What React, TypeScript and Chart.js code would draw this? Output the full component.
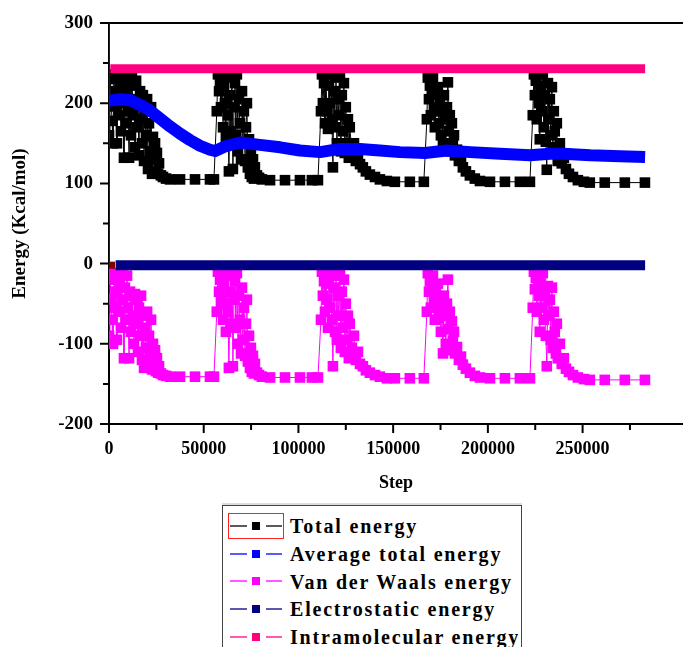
import React, { useEffect, useRef } from 'react';
import { Chart, registerables } from 'chart.js';

Chart.register(...registerables);

const FONT = '"Liberation Serif", "Times New Roman", serif';

// ---------- tick definitions ----------
const xMajorTicks = [0, 50000, 100000, 150000, 200000, 250000];
const xMinorTicks = [25000, 75000, 125000, 175000, 225000, 275000];
const yMajorTicks = [-200, -100, 0, 100, 200, 300];
const yMinorTicks = [-150, -50, 50, 150, 250];

// ---------- series (step, energy) ----------
const totalEnergy: [number, number][] = [
  [0, 160], [500, 236], [1100, 205], [1600, 178], [2100, 150], [2600, 230], [3200, 196], [3700, 215],
  [4200, 150], [4800, 236], [5300, 185], [5800, 220], [6300, 165], [6900, 232], [7400, 200], [7900, 132],
  [8400, 215], [9000, 175], [9500, 236], [10000, 190], [10600, 132], [11100, 222], [11600, 160], [12100, 234],
  [12700, 185], [13200, 205], [13700, 145], [14300, 228], [14800, 170], [15300, 200], [15800, 135], [16400, 215],
  [16900, 180], [17400, 150], [17900, 210], [18500, 128], [19000, 190], [19500, 160], [20100, 205], [20600, 118],
  [21100, 175], [21600, 140], [22200, 195], [22700, 112], [23200, 158], [23700, 130], [24300, 150], [24800, 115],
  [25300, 138], [25900, 112], [26400, 125], [27400, 110], [28500, 108], [30100, 106], [32200, 105], [37500, 105],
  [45400, 105], [53300, 105], [55400, 105],
  [56900, 190], [57500, 236], [58100, 215], [58600, 228], [59100, 195], [59600, 236], [60200, 170], [60700, 222],
  [61200, 200], [61700, 158], [62300, 232], [62800, 185], [63300, 115], [63900, 210], [64400, 165], [64900, 236],
  [65400, 118], [66000, 195], [66500, 225], [67000, 160], [67500, 236], [68100, 140], [68600, 205], [69100, 175],
  [69700, 130], [70200, 215], [70700, 150], [71200, 190], [71800, 128], [72300, 170], [72800, 200], [73300, 120],
  [73900, 155], [74400, 112], [74900, 140], [75400, 108], [76000, 130], [76500, 106], [77000, 120], [78100, 110],
  [79200, 107], [80700, 105], [85000, 104], [92900, 104], [100800, 104], [107100, 104], [110300, 104],
  [111900, 190], [112400, 236], [112900, 200], [113500, 225], [114000, 175], [114500, 236], [115000, 190],
  [115600, 168], [116100, 222], [116600, 200], [117200, 236], [117700, 180], [118200, 120], [118700, 215],
  [119300, 170], [119800, 232], [120300, 150], [120800, 205], [121400, 185], [121900, 236], [122400, 140],
  [122900, 210], [123500, 165], [124000, 225], [124500, 138], [125000, 195], [125600, 150], [126100, 180],
  [126600, 132], [127100, 170], [128200, 140], [129300, 150], [130300, 128], [131400, 135], [132500, 124],
  [134000, 120], [135600, 115], [137700, 111], [140400, 108], [143000, 105], [146700, 103], [150900, 102],
  [158800, 102], [166200, 102],
  [167800, 180], [168300, 232], [168900, 205], [169400, 222], [169900, 185], [170400, 215], [171000, 232],
  [171500, 195], [172000, 170], [172600, 210], [173100, 190], [173600, 220], [174100, 175], [174700, 200],
  [175200, 160], [175700, 190], [176300, 150], [176800, 210], [177300, 180], [177800, 148], [178400, 195],
  [178900, 226], [179400, 165], [179900, 185], [180500, 140], [181000, 175], [181500, 150], [182100, 160],
  [182600, 135], [183700, 142], [184700, 128], [185800, 132], [186800, 120], [188400, 115], [190500, 110],
  [193100, 106], [195800, 103], [201100, 102], [209000, 102], [216900, 102], [222200, 102],
  [223700, 185], [224300, 236], [224800, 210], [225300, 228], [225800, 180], [226400, 236], [226900, 200],
  [227400, 155], [228000, 222], [228500, 190], [229000, 236], [229500, 170], [230100, 210], [230600, 152],
  [231100, 117], [231700, 225], [232200, 180], [232700, 205], [233200, 160], [233800, 220], [234300, 145],
  [234800, 190], [235300, 165], [235900, 138], [236400, 175], [236900, 128], [238000, 150], [239000, 125],
  [240100, 132], [241200, 118], [242800, 112], [244900, 108], [247500, 104], [250700, 102], [253800, 101],
  [261700, 101], [272300, 101], [282900, 101],
];

const averageTotalEnergy: [number, number][] = [
  [0, 203], [5800, 205], [11100, 204], [16400, 198], [21600, 191], [26900, 181], [32200, 171], [37500, 162],
  [42800, 154], [48000, 147], [53300, 142], [56000, 140.5], [61200, 146], [69200, 151], [79700, 148],
  [90300, 145], [100800, 141], [111400, 139], [121900, 143], [132500, 143], [143000, 141], [153600, 139],
  [166800, 138], [178400, 141], [190600, 139], [206400, 137], [222300, 135], [232800, 137], [239700, 137],
  [254000, 135], [269800, 134], [283000, 133],
];

const vanDerWaalsEnergy: [number, number][] = [
  [0, -90], [500, -12], [1100, -45], [1600, -70], [2100, -100], [2600, -20], [3200, -55], [3700, -35],
  [4200, -95], [4800, -12], [5300, -60], [5800, -25], [6300, -80], [6900, -14], [7400, -45], [7900, -118],
  [8400, -30], [9000, -70], [9500, -15], [10000, -55], [10600, -118], [11100, -35], [11600, -85], [12100, -40],
  [12700, -65], [13200, -100], [13700, -38], [14300, -75], [14800, -45], [15300, -110], [15800, -55], [16400, -90],
  [16900, -40], [17400, -120], [17900, -65], [18500, -130], [19000, -80], [19500, -105], [20100, -60], [20600, -128],
  [21100, -90], [21600, -115], [22200, -70], [22700, -132], [23200, -100], [23700, -125], [24300, -108], [24800, -134],
  [25300, -118], [25900, -136], [26400, -128], [27400, -137], [28500, -139], [30100, -140], [32200, -141],
  [37500, -141], [45400, -141], [53300, -141], [55400, -141],
  [56900, -60], [57500, -10], [58100, -35], [58600, -20], [59100, -48], [59600, -12], [60200, -70], [60700, -28],
  [61200, -50], [61700, -85], [62300, -15], [62800, -60], [63300, -130], [63900, -35], [64400, -75], [64900, -12],
  [65400, -128], [66000, -45], [66500, -22], [67000, -80], [67500, -12], [68100, -100], [68600, -40], [69100, -70],
  [69700, -112], [70200, -30], [70700, -95], [71200, -55], [71800, -115], [72300, -75], [72800, -45], [73300, -122],
  [73900, -90], [74400, -130], [74900, -105], [75400, -135], [76000, -115], [76500, -137], [77000, -125],
  [78100, -136], [79200, -139], [80700, -141], [85000, -142], [92900, -142], [100800, -142], [107100, -142],
  [110300, -142],
  [111900, -70], [112400, -10], [112900, -40], [113500, -22], [114000, -60], [114500, -12], [115000, -45],
  [115600, -80], [116100, -25], [116600, -55], [117200, -12], [117700, -70], [118200, -128], [118700, -30],
  [119300, -85], [119800, -15], [120300, -95], [120800, -40], [121400, -65], [121900, -12], [122400, -105],
  [122900, -35], [123500, -80], [124000, -20], [124500, -110], [125000, -50], [125600, -95], [126100, -65],
  [126600, -118], [127100, -75], [128200, -105], [129300, -90], [130300, -120], [131400, -110], [132500, -125],
  [134000, -128], [135600, -133], [137700, -136], [140400, -139], [143000, -141], [146700, -143], [150900, -143],
  [158800, -143], [166200, -143],
  [167800, -60], [168300, -12], [168900, -35], [169400, -22], [169900, -55], [170400, -30], [171000, -15],
  [171500, -45], [172000, -70], [172600, -35], [173100, -55], [173600, -25], [174100, -68], [174700, -45],
  [175200, -85], [175700, -55], [176300, -112], [176800, -40], [177300, -65], [177800, -100], [178400, -50],
  [178900, -20], [179400, -82], [179900, -60], [180500, -108], [181000, -72], [181500, -96], [182100, -85],
  [182600, -112], [183700, -104], [184700, -120], [185800, -116], [186800, -126], [188400, -131], [190500, -136],
  [193100, -140], [195800, -142], [201100, -143], [209000, -143], [216900, -143], [222200, -143],
  [223700, -55], [224300, -10], [224800, -32], [225300, -18], [225800, -60], [226400, -12], [226900, -40],
  [227400, -85], [228000, -25], [228500, -55], [229000, -12], [229500, -70], [230100, -35], [230600, -90],
  [231100, -128], [231700, -28], [232200, -65], [232700, -45], [233200, -95], [233800, -30], [234300, -105],
  [234800, -60], [235300, -85], [235900, -112], [236400, -75], [236900, -118], [238000, -100], [239000, -125],
  [240100, -118], [241200, -131], [242800, -135], [244900, -139], [247500, -142], [250700, -144], [253800, -145],
  [261700, -145], [272300, -145], [282900, -145],
];

const electrostaticEnergy: [number, number][] = [[3500, -2], [283000, -2]];
const intramolecularEnergy: [number, number][] = [[700, 243], [283000, 243]];
const electrostaticStart: [number, number][] = [[1300, -2]];
const startTrace: [number, number][] = [[0, 0], [0, 300]];

const legendItems = [
  { label: 'Total energy', color: '#000000', boxed: true },
  { label: 'Average total energy', color: '#0000ff', boxed: false },
  { label: 'Van der Waals energy', color: '#ff00ff', boxed: false },
  { label: 'Electrostatic energy', color: '#000080', boxed: false },
  { label: 'Intramolecular energy', color: '#ff0080', boxed: false },
];

const toXY = (arr: [number, number][]) => arr.map(([x, y]) => ({ x, y }));

const frameAndTicks = {
  id: 'frameAndTicks',
  beforeDatasetsDraw(chart: any) {
    const { ctx, chartArea, scales } = chart;
    const { left, right, top, bottom } = chartArea;
    const xs = scales.x;
    const ys = scales.y;
    ctx.save();
    ctx.strokeStyle = '#000';
    ctx.lineWidth = 2;
    ctx.beginPath();
    ctx.moveTo(left, top);
    ctx.lineTo(right, top);
    ctx.moveTo(left, top - 1);
    ctx.lineTo(left, bottom + 1);
    ctx.moveTo(left - 1, bottom);
    ctx.lineTo(right, bottom);
    for (const v of xMajorTicks) {
      const px = xs.getPixelForValue(v);
      ctx.moveTo(px, bottom);
      ctx.lineTo(px, bottom + 9);
    }
    for (const v of xMinorTicks) {
      const px = xs.getPixelForValue(v);
      ctx.moveTo(px, bottom);
      ctx.lineTo(px, bottom + 6);
    }
    for (const v of yMajorTicks) {
      const py = ys.getPixelForValue(v);
      ctx.moveTo(left, py);
      ctx.lineTo(left - 9, py);
    }
    for (const v of yMinorTicks) {
      const py = ys.getPixelForValue(v);
      ctx.moveTo(left, py);
      ctx.lineTo(left - 6, py);
    }
    ctx.stroke();
    ctx.restore();
  },
};

function Legend() {
  return (
    <div
      style={{
        position: 'absolute',
        left: 222,
        top: 505,
        width: 300,
        height: 160,
        border: '1.5px solid #444',
        background: '#fff',
        boxShadow: '0 -2px 0 #ddd',
        paddingTop: 6,
        boxSizing: 'border-box',
      }}
    >
      {legendItems.map((it) => (
        <div key={it.label} style={{ display: 'flex', alignItems: 'center', height: 27.7, paddingLeft: 5 }}>
          <div
            style={{
              width: 56,
              height: 26,
              boxSizing: 'border-box',
              border: it.boxed ? '1.5px solid #ff2020' : '1.5px solid transparent',
              position: 'relative',
              flex: 'none',
            }}
          >
            <svg width="53" height="23" style={{ position: 'absolute', left: 0, top: 0 }}>
              <line x1="1" y1="12" x2="18" y2="12" stroke={it.color} strokeWidth="1.3" />
              <rect x="23" y="8" width="8" height="8" fill={it.color} />
              <line x1="37" y1="12" x2="53" y2="12" stroke={it.color} strokeWidth="1.3" />
            </svg>
          </div>
          <span
            style={{
              marginLeft: 6,
              fontFamily: FONT,
              fontWeight: 'bold',
              fontSize: 20,
              letterSpacing: 1.8,
              color: '#000',
              whiteSpace: 'nowrap',
              lineHeight: '27px',
              position: 'relative',
              top: 1,
            }}
          >
            {it.label}
          </span>
        </div>
      ))}
    </div>
  );
}

export default function App() {
  const ref = useRef<HTMLCanvasElement>(null);

  useEffect(() => {
    document.body.style.margin = '0';
    document.body.style.overflow = 'hidden';
    const canvas = ref.current;
    if (!canvas) return;
    const squarePoints = (color: string) => ({
      pointStyle: 'rect' as const,
      pointRadius: 7.5,
      pointBackgroundColor: color,
      pointBorderColor: color,
      pointBorderWidth: 0,
    });
    const chart = new Chart(canvas, {
      type: 'line',
      data: {
        datasets: [
          {
            label: 'Intramolecular energy',
            data: toXY(intramolecularEnergy),
            borderColor: '#ff0080',
            borderWidth: 9,
            pointRadius: 0,
            order: 0,
          },
          {
            label: 'Electrostatic energy',
            data: toXY(electrostaticEnergy),
            borderColor: '#000080',
            borderWidth: 10,
            pointRadius: 0,
            order: 0,
          },
          {
            label: 'start',
            data: toXY(electrostaticStart),
            borderColor: '#800000',
            showLine: false,
            pointStyle: 'rect',
            pointRadius: 5,
            pointBackgroundColor: '#800000',
            pointBorderWidth: 0,
            order: 0,
          },
          {
            label: 'trace',
            data: toXY(startTrace),
            borderColor: '#8b0000',
            borderWidth: 1.5,
            pointRadius: 0,
            order: 0,
          },
          {
            label: 'Average total energy',
            data: toXY(averageTotalEnergy),
            borderColor: '#0000ff',
            borderWidth: 12,
            pointRadius: 0,
            borderJoinStyle: 'round',
            order: 1,
          },
          {
            label: 'Total energy',
            data: toXY(totalEnergy),
            borderColor: '#000000',
            borderWidth: 1,
            ...squarePoints('#000000'),
            order: 2,
          },
          {
            label: 'Van der Waals energy',
            data: toXY(vanDerWaalsEnergy),
            borderColor: '#ff00ff',
            borderWidth: 1,
            ...squarePoints('#ff00ff'),
            order: 2,
          },
        ],
      },
      options: {
        animation: false,
        responsive: true,
        maintainAspectRatio: false,
        events: [],
        layout: { autoPadding: false, padding: { top: 23, right: 0, bottom: 0, left: 0 } },
        plugins: { legend: { display: false }, tooltip: { enabled: false } },
        scales: {
          x: {
            type: 'linear',
            min: 0,
            max: 303000,
            grid: { display: false, drawTicks: false },
            border: { display: false },
            afterBuildTicks: (scale: any) => {
              scale.ticks = xMajorTicks.map((v) => ({ value: v }));
            },
            ticks: {
              autoSkip: false,
              maxRotation: 0,
              padding: 15,
              color: '#000',
              font: { family: FONT, size: 18, weight: 'bold' },
              callback: (v: any) => String(v),
            },
            title: {
              display: true,
              text: 'Step',
              color: '#000',
              font: { family: FONT, size: 18, weight: 'bold' },
              padding: { top: 0, bottom: 6 },
            },
            afterFit: (scale: any) => {
              scale.height = 76;
              scale.paddingLeft = 0;
              scale.paddingRight = 0;
            },
          },
          y: {
            type: 'linear',
            min: -200,
            max: 300,
            grid: { display: false, drawTicks: false },
            border: { display: false },
            afterBuildTicks: (scale: any) => {
              scale.ticks = yMajorTicks.map((v) => ({ value: v }));
            },
            ticks: {
              padding: 16,
              color: '#000',
              font: { family: FONT, size: 19, weight: 'bold' },
              callback: (v: any) => String(v),
            },
            title: {
              display: true,
              text: 'Energy (Kcal/mol)',
              color: '#000',
              font: { family: FONT, size: 19, weight: 'bold' },
              padding: { top: 9, bottom: 0 },
            },
            afterFit: (scale: any) => {
              scale.width = 109;
              scale.paddingTop = 0;
              scale.paddingBottom = 0;
            },
          },
        },
      },
      plugins: [frameAndTicks],
    });
    return () => chart.destroy();
  }, []);

  return (
    <div style={{ position: 'relative', width: 683, height: 647, overflow: 'hidden', background: '#fff' }}>
      <div style={{ position: 'absolute', left: 0, top: 0, width: 683, height: 500 }}>
        <canvas ref={ref} />
      </div>
      <Legend />
    </div>
  );
}
